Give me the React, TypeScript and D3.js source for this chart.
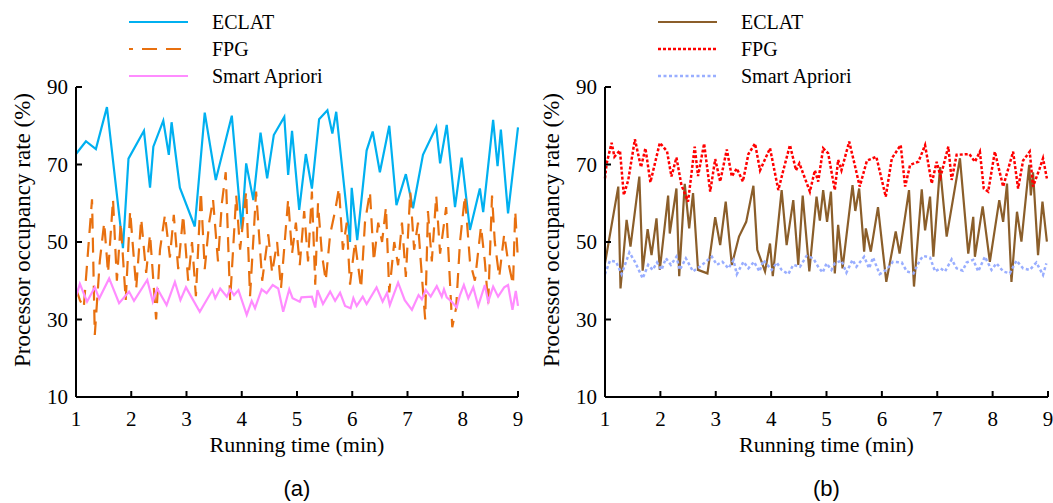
import React from "react";
import * as d3 from "d3";

// ---------- data ----------
const xTicks = [1, 2, 3, 4, 5, 6, 7, 8, 9];
const yTicks = [10, 30, 50, 70, 90];
const seriesNames = ["ECLAT", "FPG", "Smart Apriori"];
const xLabel = "Running time (min)";
const yLabel = "Processor occupancy rate (%)";
const captions = ["(a)", "(b)"];

// panel (a)
const aEclatT = [1.0, 1.18, 1.36, 1.56, 1.85, 1.95, 2.23, 2.34, 2.4, 2.58, 2.68, 2.73, 2.88, 3.15, 3.33, 3.53, 3.82, 4.0, 4.08, 4.21, 4.34, 4.46, 4.58, 4.77, 4.84, 4.91, 5.04, 5.16, 5.27, 5.4, 5.55, 5.64, 5.71, 5.96, 5.99, 6.09, 6.26, 6.37, 6.5, 6.67, 6.8, 6.97, 7.1, 7.28, 7.52, 7.59, 7.71, 7.86, 7.98, 8.13, 8.31, 8.37, 8.55, 8.63, 8.69, 8.82, 9.0];
const aEclatV = [72.7, 76, 74, 84.8, 48.4, 71.5, 78.7, 64, 74.6, 81.3, 72.5, 80.9, 64, 54, 83.4, 66, 82.6, 53.3, 70.3, 60.8, 78.2, 66.4, 77.6, 82.3, 67.3, 78.7, 58.3, 72.7, 63.8, 81.7, 84, 78, 83.6, 50, 64, 50.5, 73.6, 78.5, 68, 80, 59.5, 67.5, 58.7, 72.5, 79.7, 70.3, 80.2, 59, 71.8, 53.1, 63.8, 57.7, 81.5, 69.6, 79, 57.4, 79.6];

const aFpgT = [1.0, 1.07, 1.14, 1.22, 1.29, 1.34, 1.43, 1.51, 1.58, 1.67, 1.74, 1.81, 1.9, 1.98, 2.09, 2.18, 2.27, 2.34, 2.45, 2.52, 2.61, 2.7, 2.77, 2.85, 2.94, 3.03, 3.1, 3.17, 3.26, 3.33, 3.41, 3.48, 3.57, 3.64, 3.71, 3.79, 3.9, 3.97, 4.08, 4.15, 4.26, 4.37, 4.48, 4.55, 4.64, 4.71, 4.84, 4.91, 4.98, 5.05, 5.13, 5.2, 5.27, 5.33, 5.38, 5.45, 5.52, 5.6, 5.69, 5.76, 5.83, 5.9, 5.96, 6.05, 6.16, 6.23, 6.32, 6.39, 6.47, 6.54, 6.61, 6.67, 6.76, 6.83, 6.9, 6.97, 7.05, 7.12, 7.19, 7.24, 7.32, 7.37, 7.44, 7.52, 7.59, 7.7, 7.81, 7.88, 7.95, 8.04, 8.13, 8.22, 8.33, 8.4, 8.46, 8.53, 8.58, 8.66, 8.75, 8.82, 8.91, 8.95, 9.0];
const aFpgV = [38, 35, 33, 48, 61, 26, 45, 55, 42, 61, 40, 55, 35, 58, 38, 56, 42, 52, 30, 48, 57, 46, 57, 43, 57, 40, 50, 36, 63, 43, 55, 61, 45, 60, 68, 35, 62, 48, 63, 36, 63, 40, 52, 42, 50, 38, 61, 47, 55, 44, 58, 45, 63, 39, 60, 47, 40, 52, 58, 64, 48, 55, 39, 50, 38, 55, 63, 45, 55, 50, 59, 37, 50, 44, 55, 41, 63, 48, 55, 45, 30, 58, 45, 62, 47, 59, 28, 33, 50, 62, 45, 40, 54, 45, 34, 62, 50, 41, 52, 45, 39, 58, 45];

const aAprT = [1.0, 1.07, 1.2, 1.34, 1.42, 1.6, 1.78, 1.96, 2.05, 2.29, 2.39, 2.47, 2.64, 2.79, 2.89, 2.99, 3.24, 3.47, 3.52, 3.61, 3.73, 3.79, 3.86, 3.94, 4.09, 4.18, 4.24, 4.36, 4.45, 4.56, 4.66, 4.75, 4.86, 4.92, 5.05, 5.08, 5.27, 5.33, 5.37, 5.47, 5.6, 5.69, 5.78, 5.87, 5.97, 6.02, 6.08, 6.19, 6.26, 6.44, 6.55, 6.63, 6.68, 6.83, 6.95, 7.08, 7.2, 7.26, 7.33, 7.42, 7.53, 7.62, 7.66, 7.71, 7.8, 7.89, 7.95, 8.02, 8.1, 8.19, 8.28, 8.4, 8.46, 8.55, 8.64, 8.75, 8.82, 8.9, 8.96, 9.0];
const aAprV = [35.9, 39.2, 34.6, 38.3, 35.4, 40.6, 34.2, 37.2, 34.8, 40.2, 34.6, 38, 33.7, 39.7, 35, 38.3, 32, 37.6, 35.5, 38, 35.9, 37.8, 36.3, 37.6, 31.2, 34.8, 32.9, 37.8, 36.8, 38.9, 38, 32, 37.8, 35.5, 34.6, 35.7, 35.9, 33.1, 37.6, 34, 37.2, 34.8, 36.9, 33.5, 32.9, 35.5, 33.5, 35.9, 34, 38.3, 34.6, 36.9, 33.7, 39.5, 35, 32.5, 36.3, 35.2, 37.6, 35.9, 38.6, 35.9, 37.8, 35.7, 34.6, 33.1, 36.3, 38.9, 35.5, 38.3, 33.5, 38.9, 34.6, 38.5, 35.9, 38.3, 38.9, 32.5, 37.4, 33.5];

// panel (b)
const bEclatT = [1.0, 1.24, 1.28, 1.39, 1.46, 1.62, 1.68, 1.77, 1.84, 1.93, 1.99, 2.14, 2.17, 2.29, 2.34, 2.44, 2.52, 2.59, 2.68, 2.85, 2.99, 3.08, 3.18, 3.29, 3.42, 3.55, 3.68, 3.75, 3.89, 3.98, 4.03, 4.19, 4.28, 4.4, 4.49, 4.57, 4.69, 4.82, 4.88, 4.94, 5.01, 5.08, 5.15, 5.21, 5.29, 5.47, 5.52, 5.59, 5.68, 5.71, 5.8, 5.93, 6.08, 6.25, 6.32, 6.49, 6.58, 6.72, 6.78, 6.87, 6.93, 7.05, 7.17, 7.41, 7.56, 7.65, 7.68, 7.82, 7.95, 8.12, 8.19, 8.26, 8.34, 8.44, 8.52, 8.66, 8.69, 8.73, 8.82, 8.9, 8.98];
const bEclatV = [44.5, 64.3, 38, 55.7, 48.8, 66.9, 42.6, 53.3, 46.6, 56.1, 42.8, 62, 52.2, 63.8, 41.2, 65, 53.5, 62.6, 42.8, 41.9, 56.4, 49.2, 60.4, 44.1, 51.4, 55.2, 64.5, 48, 42.4, 49.6, 41.2, 63.4, 49.2, 60.8, 44.1, 62, 42.4, 61.7, 55.5, 63.4, 55.2, 63, 41.9, 54.4, 43.2, 64.7, 58, 63.8, 47.5, 53.5, 47.5, 59, 39.7, 52.7, 47, 63.4, 38.5, 63.6, 53, 61.7, 46.2, 69.3, 51.4, 71.6, 47, 56.5, 46.2, 59.2, 44.9, 60.8, 55.2, 65.1, 39.7, 57.8, 50.1, 69.9, 62, 68, 46.6, 60.4, 50.1];

const bFpgT = [1.0, 1.03, 1.12, 1.17, 1.27, 1.34, 1.42, 1.54, 1.65, 1.73, 1.82, 1.99, 2.12, 2.2, 2.29, 2.38, 2.5, 2.62, 2.68, 2.79, 2.9, 2.99, 3.08, 3.2, 3.29, 3.38, 3.49, 3.59, 3.71, 3.8, 3.98, 4.13, 4.22, 4.34, 4.45, 4.51, 4.7, 4.79, 4.85, 4.94, 5.03, 5.15, 5.21, 5.27, 5.41, 5.51, 5.6, 5.73, 5.9, 6.07, 6.18, 6.34, 6.42, 6.51, 6.66, 6.78, 6.9, 6.99, 7.06, 7.2, 7.26, 7.35, 7.58, 7.68, 7.77, 7.84, 7.92, 8.04, 8.19, 8.37, 8.46, 8.55, 8.67, 8.73, 8.85, 8.91, 8.98];
const bFpgV = [66.4, 70.3, 75.6, 72, 73.6, 62.1, 66, 76.5, 69.3, 74.2, 65.4, 75.6, 73.4, 66.9, 71.8, 64.7, 60.4, 74.6, 67, 75.4, 63, 71.4, 65.6, 73.9, 66.9, 69, 65.6, 72.7, 75.4, 68.5, 74.2, 63.4, 68.5, 75, 68.5, 70.3, 63, 68.5, 65.6, 74.2, 72.9, 63.4, 71.2, 68.5, 75.9, 69.9, 64.3, 71, 72, 61.7, 71.6, 75, 64.3, 69.9, 70.7, 75, 65.1, 70.7, 66.9, 74.6, 66, 72.5, 72.7, 70.7, 73.3, 63.8, 63, 73.3, 64.3, 73.3, 63.8, 71, 73.3, 64.3, 69, 71.6, 66.4];

const bAprT = [1.0, 1.09, 1.2, 1.3, 1.44, 1.54, 1.68, 1.78, 1.86, 1.94, 2.02, 2.1, 2.19, 2.29, 2.35, 2.46, 2.59, 2.71, 2.82, 2.93, 3.02, 3.12, 3.23, 3.32, 3.38, 3.5, 3.59, 3.69, 3.79, 3.86, 4.01, 4.1, 4.19, 4.31, 4.4, 4.52, 4.64, 4.76, 4.85, 4.93, 5.0, 5.09, 5.15, 5.27, 5.36, 5.47, 5.54, 5.68, 5.77, 5.84, 5.96, 6.08, 6.2, 6.36, 6.45, 6.57, 6.69, 6.75, 6.87, 6.96, 7.06, 7.14, 7.26, 7.35, 7.46, 7.53, 7.65, 7.74, 7.86, 7.98, 8.07, 8.19, 8.31, 8.43, 8.55, 8.67, 8.79, 8.91, 8.97];
const bAprV = [41.7, 45.2, 44.9, 41.7, 47.3, 44.9, 40.6, 44.1, 42.8, 44.7, 42.8, 45.8, 44.1, 46.2, 42.8, 45.8, 42.4, 43.6, 44.9, 46.2, 44.1, 44.9, 43.2, 45.3, 41.7, 44.9, 43.2, 44.9, 42.4, 45.3, 42.8, 44.7, 42.8, 41.7, 44.1, 43.6, 46.4, 45.8, 43.6, 42.1, 44.5, 42.8, 44.5, 45.2, 42.1, 45.4, 43.6, 46.2, 43.2, 46, 41.7, 42.8, 44.9, 44.7, 42.4, 41.9, 45.4, 46.4, 46, 42.4, 43.2, 42.4, 45.5, 43.2, 42.6, 44.7, 45.4, 42.4, 46.2, 42.8, 44.5, 42.4, 41.9, 45.2, 43.2, 42.8, 44.7, 41.5, 44.5];

// ---------- styling ----------
const SERIF = "'Liberation Serif', 'Times New Roman', serif";
const SANS = "'Liberation Sans', Arial, sans-serif";

type Style = { color: string; width: number; dash?: string; offset?: number };
const stylesA: Style[] = [
  { color: "#00B0F0", width: 2.2 },
  { color: "#E8700F", width: 2.2, dash: "15 9", offset: 11 },
  { color: "#FF8CFF", width: 2.2 },
];
const stylesB: Style[] = [
  { color: "#8B5E2A", width: 2.2 },
  { color: "#FF0000", width: 2.5, dash: "3 2" },
  { color: "#99AEFF", width: 2.5, dash: "3 2.5" },
];

type Panel = {
  x0: number; x1: number;
  series: { t: number[]; v: number[] }[];
  styles: Style[];
  caption: string;
  legendX: number;
};

const Y_TOP = 87;
const Y_BOT = 397;

function PanelView({ p }: { p: Panel }) {
  const x = d3.scaleLinear().domain([1, 9]).range([p.x0, p.x1]);
  const y = d3.scaleLinear().domain([10, 90]).range([Y_BOT, Y_TOP]);
  const cx = (p.x0 + p.x1) / 2;
  const legendRows = [22, 49, 76];
  return (
    <g>
      {p.series.map((s, i) => {
        const pts = s.t.map((t, k) => [t, s.v[k]] as [number, number]);
        const line = d3
          .line<[number, number]>()
          .x((d) => x(d[0]))
          .y((d) => y(d[1]));
        const st = p.styles[i];
        return (
          <path
            key={i}
            d={line(pts) || ""}
            fill="none"
            stroke={st.color}
            strokeWidth={st.width}
            strokeDasharray={st.dash}
            strokeLinejoin="miter"
          />
        );
      })}
      {/* axes */}
      <line x1={p.x0} x2={p.x0} y1={Y_TOP} y2={Y_BOT} stroke="#000" strokeWidth={2} />
      <line x1={p.x0} x2={p.x1} y1={Y_BOT} y2={Y_BOT} stroke="#000" strokeWidth={2} />
      {yTicks.map((v) => (
        <g key={v}>
          <line x1={p.x0} x2={p.x0 + 6} y1={y(v)} y2={y(v)} stroke="#000" strokeWidth={2} />
          <text
            x={p.x0 - 8}
            y={y(v) + 7}
            textAnchor="end"
            fontFamily={SERIF}
            fontSize={21}
            fill="#000"
          >
            {v}
          </text>
        </g>
      ))}
      {xTicks.map((t) => (
        <g key={t}>
          <line x1={x(t)} x2={x(t)} y1={Y_BOT} y2={Y_BOT - 6} stroke="#000" strokeWidth={2} />
          <text x={x(t)} y={426} textAnchor="middle" fontFamily={SERIF} fontSize={21} fill="#000">
            {t}
          </text>
        </g>
      ))}
      <text x={cx} y={452} textAnchor="middle" fontFamily={SERIF} fontSize={22} fill="#000">
        {xLabel}
      </text>
      <text
        transform={`translate(${p.x0 - 46},${(Y_TOP + Y_BOT) / 2 - 12}) rotate(-90)`}
        textAnchor="middle"
        fontFamily={SERIF}
        fontSize={23}
        fill="#000"
      >
        {yLabel}
      </text>
      <text x={cx} y={496} textAnchor="middle" fontFamily={SANS} fontSize={22} fill="#000">
        {p.caption}
      </text>
      {/* legend */}
      {seriesNames.map((n, i) => {
        const st = p.styles[i];
        return (
          <g key={n}>
            <line
              x1={p.legendX}
              x2={p.legendX + 59}
              y1={legendRows[i]}
              y2={legendRows[i]}
              stroke={st.color}
              strokeWidth={st.width}
              strokeDasharray={st.dash}
              strokeDashoffset={st.offset || 0}
            />
            <text
              x={p.legendX + 83}
              y={legendRows[i] + 7}
              fontFamily={SERIF}
              fontSize={20}
              fill="#000"
            >
              {n}
            </text>
          </g>
        );
      })}
    </g>
  );
}

export default function App() {
  const panels: Panel[] = [
    {
      x0: 76,
      x1: 518,
      series: [
        { t: aEclatT, v: aEclatV },
        { t: aFpgT, v: aFpgV },
        { t: aAprT, v: aAprV },
      ],
      styles: stylesA,
      caption: captions[0],
      legendX: 129,
    },
    {
      x0: 605,
      x1: 1048,
      series: [
        { t: bEclatT, v: bEclatV },
        { t: bFpgT, v: bFpgV },
        { t: bAprT, v: bAprV },
      ],
      styles: stylesB,
      caption: captions[1],
      legendX: 658,
    },
  ];
  return (
    <svg
      width={1053}
      height={503}
      style={{ position: "absolute", left: 0, top: 0, background: "#fff" }}
    >
      <rect x={0} y={0} width={1053} height={503} fill="#fff" />
      {panels.map((p, i) => (
        <PanelView key={i} p={p} />
      ))}
    </svg>
  );
}
